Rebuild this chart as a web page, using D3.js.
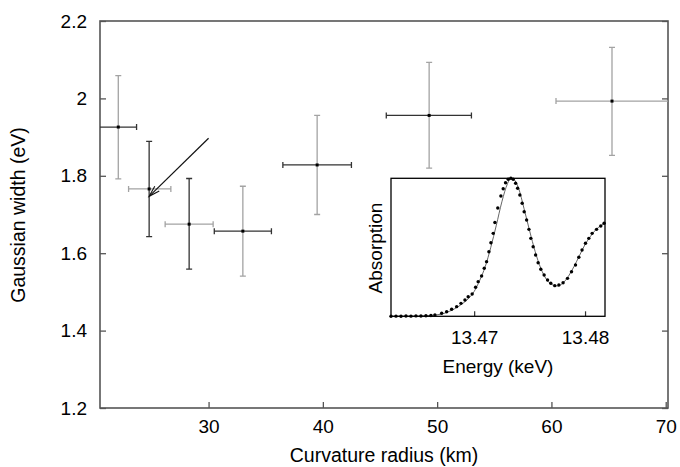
<!DOCTYPE html>
<html>
<head>
<meta charset="utf-8">
<script src="https://cdn.jsdelivr.net/npm/d3@7"></script>
<style>
  body { margin: 0; background: #fff; }
  text { font-family: "Liberation Sans", Arial, sans-serif; fill: #000; }
</style>
</head>
<body>
<div id="chart"></div>
<script>
var w = 680
var h = 467

// main panel: gaussian width vs curvature radius
var radius   = [22.1, 24.8, 28.3, 33.0, 39.5, 49.3, 65.3];
var radiusLo = [20.4, 23.0, 26.2, 30.5, 36.5, 45.55, 60.4];
var radiusHi = [23.7, 26.7, 30.4, 35.5, 42.5, 53.0, 70.6];
var gwidth   = [1.926, 1.766, 1.675, 1.657, 1.828, 1.956, 1.993];
var widthLo  = [1.792, 1.643, 1.559, 1.541, 1.700, 1.820, 1.853];
var widthHi  = [2.059, 1.889, 1.793, 1.773, 1.956, 2.093, 2.132];

var xTicks = [30, 40, 50, 60, 70];
var yTicks = [1.2, 1.4, 1.6, 1.8, 2, 2.2];

// arrow pointing at the second point  [radius, width]
var arrowFrom = [30.0, 1.897];
var arrowTo   = [24.8, 1.747];

// inset: measured absorption (dots) and fit (line)
var energy = [13.46250, 13.46295, 13.46340, 13.46385, 13.46430, 13.46475, 13.46520, 13.46565,
              13.46610, 13.46646, 13.46707, 13.46752, 13.46797, 13.46842, 13.46881, 13.46917,
              13.46946, 13.46982, 13.47013, 13.47036, 13.47067, 13.47091, 13.47112, 13.47133,
              13.47151, 13.47172, 13.47187, 13.47213, 13.47241, 13.47262, 13.47283, 13.47307,
              13.47331, 13.47352, 13.47374, 13.47392, 13.47412, 13.47433, 13.47451, 13.47473,
              13.47494, 13.47511, 13.47532, 13.47554, 13.47577, 13.47601, 13.47631, 13.47662,
              13.47691, 13.47727, 13.47764, 13.47802, 13.47842, 13.47878, 13.47914, 13.47944,
              13.47973, 13.48004, 13.48034, 13.48064, 13.48104, 13.48142, 13.48172];
var absorb = [0.000, 0.001, 0.000, 0.002, 0.001, 0.003, 0.002, 0.004,
              0.006, 0.009, 0.022, 0.033, 0.051, 0.070, 0.094, 0.118,
              0.142, 0.162, 0.210, 0.251, 0.292, 0.348, 0.396, 0.468,
              0.533, 0.601, 0.680, 0.785, 0.872, 0.924, 0.968, 0.993,
              1.000, 0.993, 0.964, 0.928, 0.879, 0.819, 0.758, 0.698,
              0.630, 0.565, 0.504, 0.444, 0.388, 0.341, 0.299, 0.263,
              0.239, 0.222, 0.227, 0.243, 0.275, 0.323, 0.372, 0.428,
              0.480, 0.529, 0.565, 0.601, 0.630, 0.654, 0.674];

var fitEnergy = [13.4625, 13.4650, 13.4660, 13.4670, 13.4680, 13.4690, 13.4695, 13.4700,
                 13.4705, 13.4710, 13.4715, 13.4720, 13.4725, 13.4730, 13.4733, 13.4736,
                 13.4740, 13.4745, 13.4750, 13.4755, 13.4760, 13.4765, 13.4770, 13.4775,
                 13.4780, 13.4785, 13.4790, 13.4795, 13.4800, 13.4805, 13.4810, 13.4815, 13.4818];
var fitAbsorb = [0.000, 0.002, 0.006, 0.015, 0.045, 0.095, 0.130, 0.180,
                 0.260, 0.360, 0.500, 0.660, 0.830, 0.960, 1.000, 0.990,
                 0.930, 0.780, 0.620, 0.470, 0.350, 0.270, 0.230, 0.220,
                 0.240, 0.290, 0.360, 0.440, 0.520, 0.580, 0.630, 0.660, 0.675];
var insetTicks = [13.47, 13.48];

// shades of the error bars (horizontal / vertical), as in the original print
var dark = "#333333", light = "#a3a3a3";
var hShade = [dark, light, light, dark, dark, dark, light];
var vShade = [light, dark, dark, light, light, light, light];

var axisCol = "#555";

var svg = d3.select("#chart").append("svg")
    .attr("width", w)
    .attr("height", h);

var x = d3.scaleLinear().domain([20.5, 70.2]).range([100, 668]);
var y = d3.scaleLinear().domain([1.2, 2.2]).range([408, 21]);

svg.append("clipPath").attr("id", "plotClip")
  .append("rect")
    .attr("x", 100).attr("y", 21)
    .attr("width", 568).attr("height", 387);

// axes (ticks point inward)
var gx = svg.append("g")
    .attr("transform", "translate(0,408)")
    .call(d3.axisBottom(x).tickValues(xTicks).tickSize(-6).tickPadding(11.5).tickFormat(d3.format("d")));

var gy = svg.append("g")
    .attr("transform", "translate(100,0)")
    .call(d3.axisLeft(y).tickValues(yTicks).tickSize(-6).tickPadding(13).tickFormat(function(d) { return d == 2 ? "2" : d3.format(".1f")(d); }));

var gr = svg.append("g")
    .attr("transform", "translate(668,0)")
    .call(d3.axisRight(y).tickValues(yTicks).tickSize(-6).tickFormat(""));

[gx, gy, gr].forEach(function(g) {
  g.select(".domain").remove();
  g.selectAll(".tick line").attr("stroke", axisCol).attr("stroke-width", 1.3);
  g.selectAll(".tick text").style("font-size", "19px").attr("fill", "#000");
});

svg.append("rect")
    .attr("x", 100).attr("y", 21)
    .attr("width", 568).attr("height", 387)
    .attr("fill", "none")
    .attr("stroke", axisCol)
    .attr("stroke-width", 1.6);

svg.append("text")
    .attr("x", 384).attr("y", 462)
    .attr("text-anchor", "middle")
    .style("font-size", "19.5px")
    .text("Curvature radius (km)");

svg.append("text")
    .attr("transform", "translate(25,215) rotate(-90)")
    .attr("text-anchor", "middle")
    .style("font-size", "19.5px")
    .text("Gaussian width (eV)");

// error bars
var bars = svg.append("g").attr("clip-path", "url(#plotClip)");
var cap = 3;

var pts = bars.selectAll("g.pt").data(radius).enter()
  .append("g").attr("class", "pt");

pts.append("path")
    .attr("stroke", function(d, i) { return hShade[i]; })
    .attr("stroke-width", 1.3)
    .attr("fill", "none")
    .attr("d", function(d, i) {
      var x0 = x(radiusLo[i]), x1 = x(radiusHi[i]), yc = y(gwidth[i]);
      return "M" + x0 + "," + yc + "H" + x1 +
             "M" + x0 + "," + (yc - cap) + "V" + (yc + cap) +
             "M" + x1 + "," + (yc - cap) + "V" + (yc + cap);
    });

pts.append("path")
    .attr("stroke", function(d, i) { return vShade[i]; })
    .attr("stroke-width", 1.3)
    .attr("fill", "none")
    .attr("d", function(d, i) {
      var xc = x(d), y0 = y(widthLo[i]), y1 = y(widthHi[i]);
      return "M" + xc + "," + y0 + "V" + y1 +
             "M" + (xc - cap) + "," + y0 + "H" + (xc + cap) +
             "M" + (xc - cap) + "," + y1 + "H" + (xc + cap);
    });

pts.append("rect")
    .attr("x", function(d) { return x(d) - 1.5; })
    .attr("y", function(d, i) { return y(gwidth[i]) - 1.5; })
    .attr("width", 3).attr("height", 3)
    .attr("fill", "#000");

// arrow
svg.append("defs").append("marker")
    .attr("id", "head")
    .attr("viewBox", "-12 -6 14 12")
    .attr("refX", 0).attr("refY", 0)
    .attr("markerWidth", 14).attr("markerHeight", 12)
    .attr("markerUnits", "userSpaceOnUse")
    .attr("orient", "auto")
  .append("path")
    .attr("d", "M-11,-3.2L0,0L-11,3.2")
    .attr("fill", "none")
    .attr("stroke", "#111")
    .attr("stroke-width", 1.1);

svg.append("line")
    .attr("x1", x(arrowFrom[0])).attr("y1", y(arrowFrom[1]))
    .attr("x2", x(arrowTo[0])).attr("y2", y(arrowTo[1]))
    .attr("stroke", "#111")
    .attr("stroke-width", 1.2)
    .attr("marker-end", "url(#head)");

// inset
var ix = d3.scaleLinear().domain([13.4625, 13.4818]).range([391, 605]);
var iy = d3.scaleLinear().domain([0, 1]).range([316.3, 178.3]);

svg.append("rect")
    .attr("x", 391).attr("y", 178.3)
    .attr("width", 214).attr("height", 138)
    .attr("fill", "#fff");

var gix = svg.append("g")
    .attr("transform", "translate(0,316.3)")
    .call(d3.axisBottom(ix).tickValues(insetTicks).tickSize(-5).tickPadding(14).tickFormat(d3.format(".2f")));
gix.select(".domain").remove();
gix.selectAll(".tick line").attr("stroke", "#333").attr("stroke-width", 1.2);
gix.selectAll(".tick text").style("font-size", "19px").attr("fill", "#000");

var fitLine = d3.line()
    .x(function(d, i) { return ix(fitEnergy[i]); })
    .y(function(d) { return iy(d); })
    .curve(d3.curveMonotoneX);

svg.append("path")
    .attr("d", fitLine(fitAbsorb))
    .attr("fill", "none")
    .attr("stroke", "#555")
    .attr("stroke-width", 0.9);

svg.selectAll("circle.dot").data(absorb).enter()
  .append("circle")
    .attr("class", "dot")
    .attr("cx", function(d, i) { return ix(energy[i]); })
    .attr("cy", function(d) { return iy(d); })
    .attr("r", 1.7)
    .attr("fill", "#000");

svg.append("rect")
    .attr("x", 391).attr("y", 178.3)
    .attr("width", 214).attr("height", 138)
    .attr("fill", "none")
    .attr("stroke", "#000")
    .attr("stroke-width", 1.3);

svg.append("text")
    .attr("x", 498).attr("y", 373)
    .attr("text-anchor", "middle")
    .style("font-size", "19px")
    .text("Energy (keV)");

svg.append("text")
    .attr("transform", "translate(382,248) rotate(-90)")
    .attr("text-anchor", "middle")
    .style("font-size", "19px")
    .text("Absorption");
</script>
</body>
</html>
